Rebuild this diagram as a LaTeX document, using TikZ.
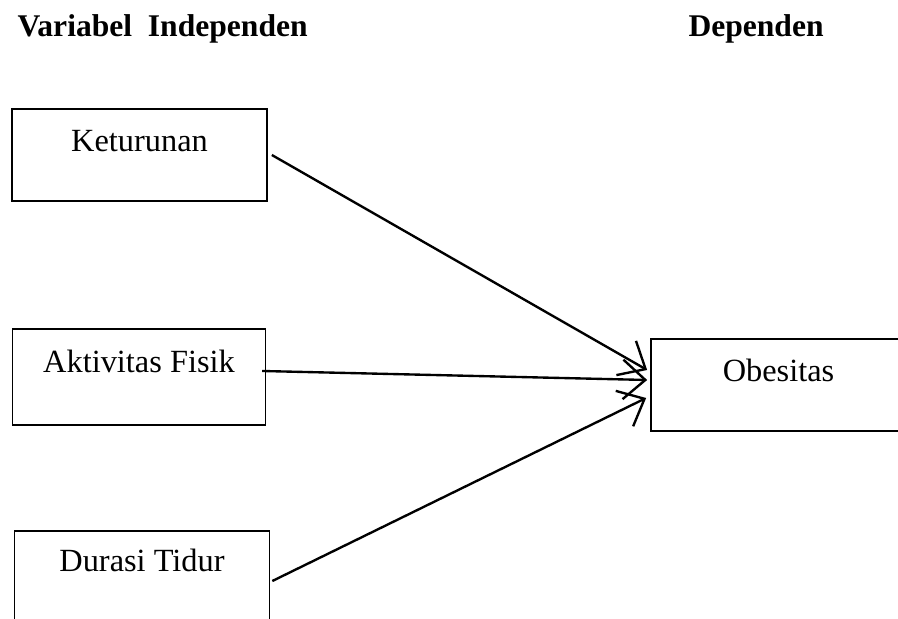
\documentclass[tikz,border=0pt]{standalone}
\usepackage{fontspec}
\setmainfont{Liberation Serif}
\usepackage{tikz}
\usetikzlibrary{arrows.meta,positioning}
\tikzset{%
	varbox/.style = {draw, rectangle, line width=0.55pt, minimum width=97pt, minimum height=35pt, inner sep=0pt},
	varname/.style = {anchor=base, font=\fontsize{12.3}{14}\selectfont, inner sep=0pt},
	heading/.style = {anchor=base west, font=\fontsize{12}{14}\selectfont\bfseries, inner sep=0pt},
	arrow/.style = {line width=0.9pt, -{Straight Barb[length=8.5pt,width=15pt,line width=0.9pt]}},
}
\begin{document}
\begin{tikzpicture}[x=0.38pt,y=-0.38pt]
	\useasboundingbox (0,0) rectangle (898,619);
	\clip (0,0) rectangle (898,619);
	\node[heading] (indep) at (17,37) {Variabel~~Independen};
	\node[heading] (dep) at (688,37) {Dependen};
	
	\node[varbox] (ket) at (139.5,155) {};
	\node[varbox, minimum width=96pt, minimum height=36.5pt] (akt) at (139,377) {};
	\node[varbox, minimum height=36.5pt] (dur) at (142,579) {};
	\node[varbox] (obe) at (778.5,385) {};
	
	\node[varname] (ketname) at ([shift={(0,43)}]ket.north) {Keturunan};
	\node[varname] (aktname) at ([shift={(0,44)}]akt.north) {Aktivitas Fisik};
	\node[varname] (durname) at ([shift={(0,41)}]dur.north) {Durasi Tidur};
	\node[varname] (obename) at ([shift={(0,43)}]obe.north) {Obesitas};
	
	\draw[arrow] ([shift={(4,0)}]ket.east) -- ([shift={(-3,-15)}]obe.west);
	\draw[arrow] ([shift={(-4,-6)}]akt.east) -- ([shift={(-3,-5)}]obe.west);
	\draw[arrow] ([shift={(2,2)}]dur.east) -- ([shift={(-4,13)}]obe.west);
\end{tikzpicture}
\end{document}
